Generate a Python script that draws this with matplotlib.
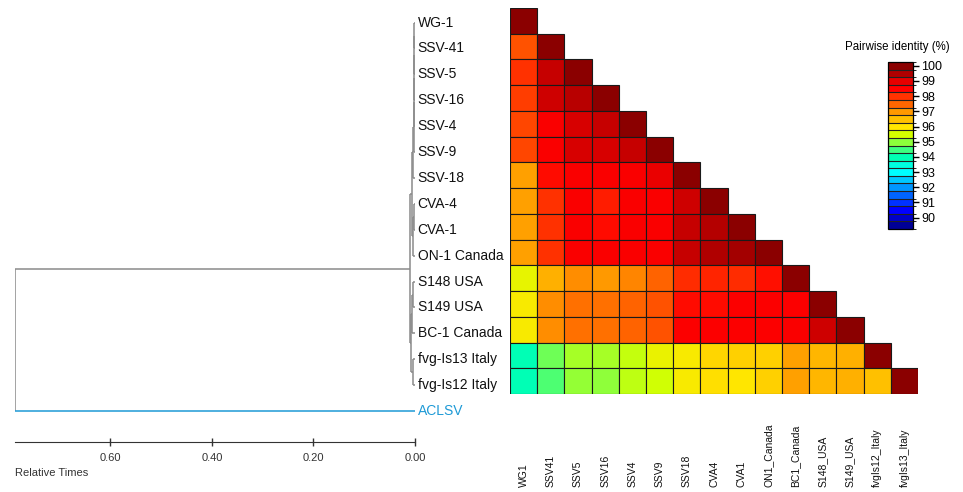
import matplotlib
matplotlib.use('Agg')
import matplotlib.pyplot as plt
import matplotlib.transforms as mtransforms
from matplotlib.colors import ListedColormap, BoundaryNorm, LinearSegmentedColormap, Normalize
from matplotlib.cm import ScalarMappable
import numpy as np

plt.rcParams['font.family'] = ['Liberation Sans', 'DejaVu Sans']

# tip labels of the tree (top to bottom)
tips = ['WG-1', 'SSV-41', 'SSV-5', 'SSV-16', 'SSV-4', 'SSV-9', 'SSV-18',
        'CVA-4', 'CVA-1', 'ON-1 Canada', 'S148 USA', 'S149 USA',
        'BC-1 Canada', 'fvg-Is13 Italy', 'fvg-Is12 Italy', 'ACLSV']

# internal nodes: (name, relative time, children)
tree_nodes = [
    ('s1', 0.0010, ['WG-1', 'SSV-41']),
    ('s2', 0.0014, ['s1', 'SSV-5']),
    ('s3', 0.0018, ['s2', 'SSV-16']),
    ('s4', 0.0022, ['s3', 'SSV-4']),
    ('s5', 0.0026, ['s4', 'SSV-9']),
    ('s6', 0.0030, ['s5', 'SSV-18']),
    ('c1', 0.0025, ['CVA-4', 'CVA-1']),
    ('c2', 0.0045, ['c1', 'ON-1 Canada']),
    ('A', 0.0060, ['s6', 'c2']),
    ('u1', 0.0040, ['S148 USA', 'S149 USA']),
    ('u2', 0.0055, ['u1', 'BC-1 Canada']),
    ('f1', 0.0030, ['fvg-Is13 Italy', 'fvg-Is12 Italy']),
    ('B', 0.0075, ['u2', 'f1']),
    ('ingroup', 0.0099, ['A', 'B']),
    ('root', 0.788, ['ingroup', 'ACLSV']),
]

# pairwise identity matrix (lower triangle)
col_labels = ['WG1', 'SSV41', 'SSV5', 'SSV16', 'SSV4', 'SSV9', 'SSV18', 'CVA4',
              'CVA1', 'ON1_Canada', 'BC1_Canada', 'S148_USA', 'S149_USA',
              'fvgIs12_Italy', 'fvgIs13_Italy']
ident = [
    [100],
    [97.7, 100],
    [98.0, 99.3, 100],
    [97.9, 99.2, 99.4, 100],
    [97.8, 98.6, 99.1, 99.3, 100],
    [97.8, 98.6, 99.1, 99.1, 99.3, 100],
    [96.9, 98.4, 98.6, 98.6, 98.6, 98.9, 100],
    [96.9, 98.0, 98.6, 98.2, 98.6, 98.6, 99.2, 100],
    [96.9, 98.0, 98.6, 98.4, 98.6, 98.6, 99.3, 99.45, 100],
    [96.9, 98.0, 98.6, 98.6, 98.6, 98.6, 99.3, 99.5, 99.65, 100],
    [95.7, 96.7, 97.1, 97.0, 97.2, 97.5, 98.05, 98.15, 98.05, 98.35, 100],
    [95.9, 97.1, 97.4, 97.4, 97.5, 97.7, 98.4, 98.4, 98.55, 98.55, 98.55, 100],
    [95.9, 97.1, 97.4, 97.4, 97.5, 97.7, 98.55, 98.55, 98.55, 98.55, 98.6, 99.2, 100],
    [94.0, 94.8, 95.2, 95.2, 95.4, 95.75, 95.9, 96.2, 96.3, 96.3, 96.9, 96.6, 96.7, 100],
    [94.0, 94.6, 95.05, 95.0, 95.35, 95.45, 95.9, 96.1, 96.0, 96.3, 96.9, 96.6, 96.7, 96.5, 100],
]

# colour scale, 100 down to 89.5 in steps of 0.5
scale_colors = ['#8B0000', '#B00000', '#E60000', '#FF0000', '#FF3300', '#FF6600',
                '#FF9900', '#FFC000', '#FFE600', '#D4FF00', '#8CFF3C', '#3CFF80',
                '#00FFB4', '#00FFE0', '#00FFFF', '#00C8FF', '#0096FF', '#0064FF',
                '#0032FF', '#0000FF', '#0000C8', '#000096']

gray = '#8a8a8a'
blue = '#1E9AD6'

fig = plt.figure(figsize=(9.63, 4.92), dpi=100)

# ---- tree ----
ax_t = fig.add_axes([15 / 963, 68 / 492, 400 / 963, 414.4 / 492])
ypos = {name: i for i, name in enumerate(tips)}
age = {name: 0.0 for name in tips}
for name, t, kids in tree_nodes:
    ys = [ypos[k] for k in kids]
    ypos[name] = (ys[0] + ys[-1]) / 2
    age[name] = t
    ax_t.plot([t, t], [min(ys), max(ys)], color=gray, lw=1.1, solid_capstyle='butt')
    for k in kids:
        c = blue if k == 'ACLSV' else gray
        ax_t.plot([t, age[k]], [ypos[k], ypos[k]], color=c, lw=1.1, solid_capstyle='butt')

for name in tips:
    ax_t.text(-0.005, ypos[name], name, ha='left', va='center', fontsize=10,
              color=blue if name == 'ACLSV' else '#111111', clip_on=False)

ax_t.set_xlim(0.788, 0)
ax_t.set_ylim(15.5, -0.5)
for s in ['top', 'left', 'right']:
    ax_t.spines[s].set_visible(False)
ax_t.spines['bottom'].set_position(('outward', 13))
ax_t.spines['bottom'].set_color('#333333')
ax_t.set_yticks([])
ax_t.set_xticks([0.6, 0.4, 0.2, 0.0])
ax_t.set_xticklabels(['0.60', '0.40', '0.20', '0.00'])
ax_t.tick_params(axis='x', direction='inout', length=6, width=1, colors='#333333',
                 labelsize=8, pad=5)
fig.text(15 / 963, 1 - 473 / 492, 'Relative Times', fontsize=8, va='center', color='#333333')

# ---- heatmap (lower triangle only) ----
n = len(col_labels)
cmap = LinearSegmentedColormap.from_list('ident', scale_colors[::-1])
norm_c = Normalize(vmin=89.5, vmax=100)
ax_h = fig.add_axes([510 / 963, 98 / 492, 408 / 963, 386 / 492])
for i, row in enumerate(ident):
    ax_h.bar(np.arange(len(row)), 1, bottom=i, width=1, align='edge',
             color=cmap(norm_c(np.array(row))), edgecolor='#1a1a1a', linewidth=0.8)
ax_h.set_xlim(0, n)
ax_h.set_ylim(n, 0)
ax_h.axis('off')
trans = mtransforms.blended_transform_factory(ax_h.transData, ax_h.transAxes)
for j, lab in enumerate(col_labels):
    ax_h.text(j + 0.5, -0.241, lab, rotation=90, ha='center', va='bottom',
              fontsize=7.5, color='#111111', transform=trans)

# ---- colour key ----
cax = fig.add_axes([888 / 963, 263 / 492, 25 / 963, 167 / 492])
bounds = np.arange(89.25, 100.26, 0.5)
norm = BoundaryNorm(bounds, len(scale_colors))
cb = fig.colorbar(ScalarMappable(norm=norm, cmap=ListedColormap(scale_colors[::-1])),
                  cax=cax, ticks=list(range(90, 101)), drawedges=True)
cb.dividers.set_color('#222222')
cb.dividers.set_linewidth(0.8)
cb.outline.set_linewidth(0.9)
cax.tick_params(labelsize=9, length=4, width=1, pad=2)
fig.text(897 / 963, 1 - 47 / 492, 'Pairwise identity (%)', fontsize=8.3, ha='center', va='center')

fig.savefig('out.png', dpi=100)
